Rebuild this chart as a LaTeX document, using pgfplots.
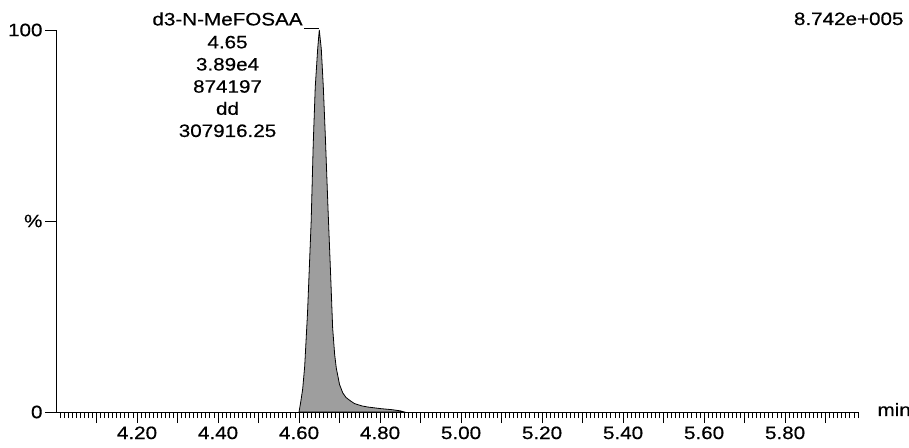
\documentclass[border=0pt]{standalone}
\usepackage{fontspec}
\setmainfont{Liberation Sans}[FakeStretch=1.15, FakeBold=0.5]
\usepackage{pgfplots}
\pgfplotsset{compat=1.18}
\begin{document}
\begin{tikzpicture}
\useasboundingbox (0,0) rectangle (909bp,448bp);
\node[anchor=base east, font=\fontsize{18}{21}\selectfont] at (907bp,423bp) {8.742e+005};
\begin{axis}[
  at={(56bp,36bp)}, anchor=south west,
  scale only axis, width=802bp, height=382bp,
  xmin=4.0, xmax=5.98, ymin=0, ymax=100,
  axis x line=bottom, axis y line=left,
  axis line style={-, line width=1pt},
  tick align=outside,
  xtick={4.2,4.4,4.6,4.8,5.0,5.2,5.4,5.6,5.8},
  xticklabels={4.20,4.40,4.60,4.80,5.00,5.20,5.40,5.60,5.80},
  extra x ticks={4.1,4.3,4.5,4.7,4.9,5.1,5.3,5.5,5.7,5.9},
  extra x tick labels={},
  extra x tick style={major tick length=11bp},
  minor xtick={4.01,4.02,...,5.975},
  major tick length=11bp, minor tick length=6bp,
  ytick={0,50,100}, yticklabels={0,\%,100},
  tick label style={font=\fontsize{18}{21}\selectfont},
  yticklabel style={xshift=1bp},
  /pgf/number format/assume math mode=true,
  every tick/.style={black, line width=0.9pt},
  clip=false,
]
\addplot[fill=black!38, draw=black, line width=0.8pt] coordinates {
(4.600,0) (4.604,2.5) (4.609,6) (4.614,12) (4.621,26) (4.630,50) (4.635,70)
(4.640,85) (4.646,95) (4.650,100) (4.655,95) (4.660,85) (4.665,72) (4.672,52)
(4.678,36) (4.683,22) (4.688,15) (4.692,11.5) (4.700,7.2) (4.708,5) (4.716,3.8)
(4.727,2.9) (4.737,2.2) (4.755,1.6) (4.770,1.3) (4.800,0.9) (4.830,0.6) (4.850,0.3) (4.860,0)
} \closedcycle;
\draw[line width=0.8pt] (axis cs:4.612,100.4) -- (axis cs:4.650,100.4);
\begin{scope}[every node/.style={anchor=base, font=\fontsize{18}{21}\selectfont}]
\node at (axis cs:4.4235,101.2) {d3-N-MeFOSAA};
\node at (axis cs:4.4235,95.2) {4.65};
\node at (axis cs:4.4235,89.4) {3.89e4};
\node at (axis cs:4.4235,83.6) {874197};
\node at (axis cs:4.4235,77.8) {dd};
\node at (axis cs:4.4235,72.0) {307916.25};
\end{scope}
\node[anchor=base west, font=\fontsize{18}{21}\selectfont] at (axis cs:5.98,0) [xshift=16bp, yshift=-4bp] {min};
\end{axis}
\end{tikzpicture}
\end{document}
